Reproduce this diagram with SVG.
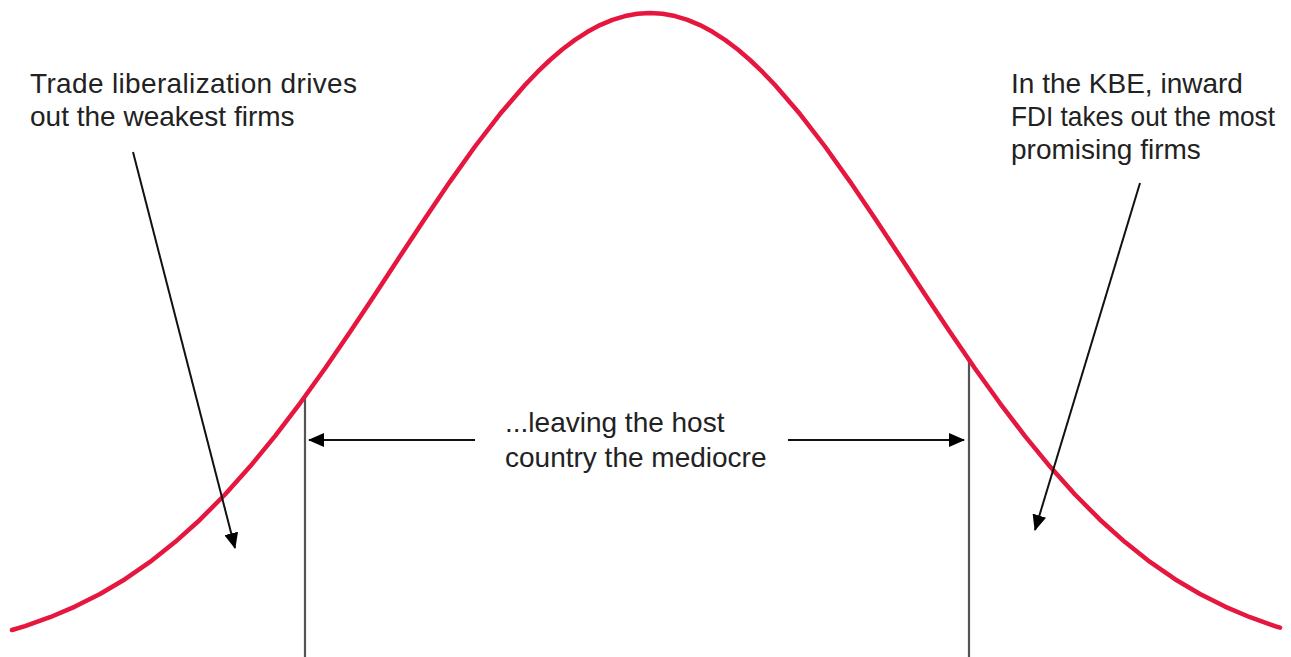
<svg xmlns="http://www.w3.org/2000/svg" width="1291" height="657" viewBox="0 0 1291 657">
<style>
.lbl{font-family:"Liberation Sans",Arial,sans-serif;font-size:28px;fill:#222}
.arr{stroke:#111;stroke-width:2;fill:none}
.vl{stroke:#555;stroke-width:2.2;fill:none}
.curve{stroke:#E5173F;stroke-width:4.5;fill:none;stroke-linejoin:round;stroke-linecap:round}
</style>
<defs>
<marker id="ah" markerUnits="userSpaceOnUse" markerWidth="16" markerHeight="14" refX="15" refY="7" orient="auto">
<path d="M0,0 L16,7 L0,14 z" fill="#000"/>
</marker>
</defs>
<rect width="1291" height="657" fill="#fff"/>
<g id="bounds">
<line class="vl" x1="305" y1="396" x2="305" y2="657"/>
<line class="vl" x1="969" y1="360" x2="969" y2="657"/>
</g>
<g id="curve">
<polyline class="curve" points="12,630 25,626.1 50,617.2 75,606.6 100,594 125,579.2 150,561.9 175,542.1 200,519.7 225,494.5 250,466.6 275,436.1 300,403.3 325,368.5 350,332 375,294.4 400,256.3 425,218.5 450,181.6 475,146.5 500,114.05 525,85 537.5,71.94 550,60 562.5,49.3 575,39.9 587.5,31.8 600,25.1 612.5,19.83 625,16.05 637.5,13.76 650,13 662.5,13.76 675,16.05 687.5,19.83 700,25.1 712.5,31.8 725,39.9 737.5,49.3 750,60 762.5,71.94 775,85 800,114.05 825,146.5 850,181.6 875,218.5 900,256.3 925,294.4 950,332 975,368.5 1000,403.3 1025,436.1 1050,466.6 1075,494.5 1100,519.7 1125,542.1 1150,561.9 1175,579.2 1200,594 1225,606.6 1250,617.2 1275,626.1 1280,627.6"/>
</g>
<g id="connectors">
<line class="arr" x1="133" y1="152" x2="235" y2="548" marker-end="url(#ah)"/>
<line class="arr" x1="1140" y1="183" x2="1035" y2="530" marker-end="url(#ah)"/>
<line class="arr" x1="475" y1="440" x2="309" y2="440" marker-end="url(#ah)"/>
<line class="arr" x1="788" y1="440" x2="964" y2="440" marker-end="url(#ah)"/>
</g>
<g id="label-left">
<text class="lbl" x="30" y="93" textLength="327" lengthAdjust="spacing">Trade liberalization drives</text>
<text class="lbl" x="30" y="126">out the weakest firms</text>
</g>
<g id="label-right">
<text class="lbl" x="1011" y="93">In the KBE, inward</text>
<text class="lbl" x="1011" y="126" textLength="264" lengthAdjust="spacingAndGlyphs">FDI takes out the most</text>
<text class="lbl" x="1011" y="159">promising firms</text>
</g>
<g id="label-middle">
<text class="lbl" x="505" y="432">...leaving the host</text>
<text class="lbl" x="505" y="467">country the mediocre</text>
</g>
</svg>
